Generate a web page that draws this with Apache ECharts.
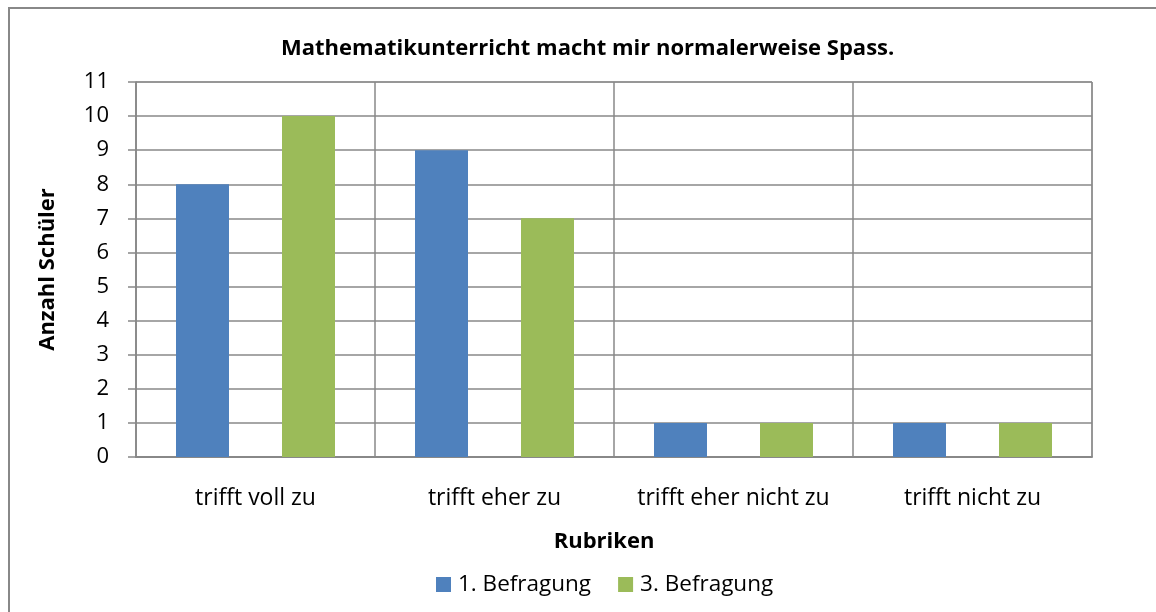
<!DOCTYPE html>
<html>
<head>
<meta charset="utf-8">
<script src="https://cdn.jsdelivr.net/npm/echarts@6/dist/echarts.min.js"></script>
<style>
  html, body { margin: 0; padding: 0; background: #fff; }
  #chart { width: 1156px; height: 612px; }
</style>
</head>
<body>
<div id="chart"></div>
<script>
const categories = ["trifft voll zu", "trifft eher zu", "trifft eher nicht zu", "trifft nicht zu"];
const befragung1 = [8, 9, 1, 1];
const befragung3 = [10, 7, 1, 1];
const seriesNames = ["1. Befragung", "3. Befragung"];

const font = "'Open Sans', 'Noto Sans', sans-serif";
const gridColor = "#888888";

let chart = echarts.init(document.getElementById("chart"));
chart.setOption({
  animation: false,
  title: {
    text: "Mathematikunterricht macht mir normalerweise Spass.",
    left: 276,
    top: 33,
    textStyle: { fontFamily: font, fontSize: 22, fontWeight: "bold", color: "#000" },
  },
  legend: {
    data: seriesNames,
    bottom: 11,
    left: 431,
    icon: "rect",
    itemWidth: 15,
    itemHeight: 15,
    itemGap: 27,
    textStyle: { fontFamily: font, fontSize: 22.5, color: "#000", padding: [0, 0, 0, 2] },
  },
  grid: {
    left: 136,
    right: 64,
    top: 82,
    bottom: 155,
    show: true,
    borderColor: gridColor,
    borderWidth: 1,
  },
  xAxis: {
    type: "category",
    data: categories,
    name: "Rubriken",
    nameLocation: "middle",
    nameGap: 74,
    nameTextStyle: { fontFamily: font, fontSize: 22, fontWeight: "bold", color: "#000", padding: [0, 20, 0, 0] },
    axisLine: { lineStyle: { color: gridColor, width: 2 } },
    axisTick: { show: false },
    axisLabel: { interval: 0, fontFamily: font, fontSize: 23, color: "#000", margin: 30 },
    splitLine: { show: true, interval: 0, lineStyle: { color: gridColor, width: 1.5 } },
  },
  yAxis: {
    type: "value",
    min: 0,
    max: 11,
    interval: 1,
    name: "Anzahl Schüler",
    nameLocation: "middle",
    nameGap: 77,
    nameTextStyle: { fontFamily: font, fontSize: 22, fontWeight: "bold", color: "#000" },
    axisLine: { show: true, lineStyle: { color: gridColor, width: 1.5 } },
    axisTick: { show: true, length: 8, lineStyle: { color: gridColor, width: 1.5 } },
    axisLabel: { fontFamily: font, fontSize: 22, color: "#000", margin: 27 },
    splitLine: { show: true, lineStyle: { color: gridColor, width: 1.5 } },
  },
  graphic: [
    {
      type: "rect",
      shape: { x: 9, y: 8, width: 1180, height: 640 },
      style: { fill: "none", stroke: "#888888", lineWidth: 2 },
      z: 100,
    },
  ],
  series: [
    {
      name: seriesNames[0],
      type: "bar",
      data: befragung1,
      barWidth: 53,
      barGap: "100%",
      itemStyle: { color: "#4F81BD" },
    },
    {
      name: seriesNames[1],
      type: "bar",
      data: befragung3,
      barWidth: 53,
      itemStyle: { color: "#9BBB59" },
    },
  ],
});
window.addEventListener("resize", () => {
  chart.resize();
});
</script>
</body>
</html>
